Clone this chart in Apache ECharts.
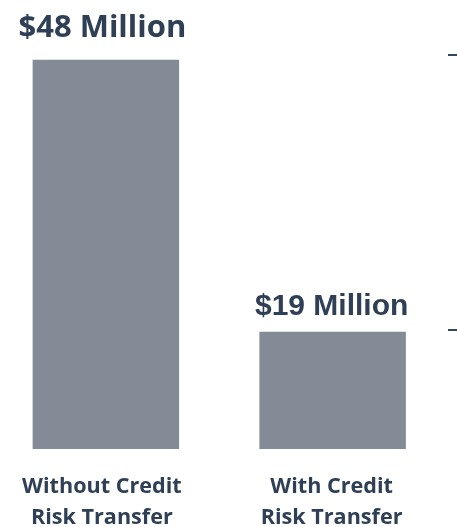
<!DOCTYPE html>
<html>
<head>
<meta charset="utf-8">
<style>
  html, body { margin: 0; padding: 0; background: #ffffff; }
  #chart { width: 457px; height: 527px; }
</style>
<script src="https://cdn.jsdelivr.net/npm/echarts@6/dist/echarts.min.js"></script>
</head>
<body>
<div id="chart"></div>
<script>
// Losses in millions of dollars, with and without credit risk transfer
const categories = ['Without Credit\nRisk Transfer', 'With Credit\nRisk Transfer'];
const values = [48, 19];
const valueLabels = ['$48 Million', '$19 Million'];
// Short marker ticks along the right edge
const edgeTicks = [48.5, 19.2];

const AXIS_MIN = 6.5;
const AXIS_MAX = 48.5;
const TEXT = '#2e3f56';
const BAR = '#838b97';

// Each value label has its own typeface, as on the slide
const labelStyles = [
  { fontFamily: 'Open Sans', fontSize: 31, distance: 16, offset: [-3.5, 0] },
  { fontFamily: 'Liberation Sans', fontSize: 30, distance: 10, offset: [-1, 0] }
];
// The first category caption sits slightly left of its bar
const captionPadding = [[0, 8, 0, 0], [0, 2, 0, 0]];

const chart = echarts.init(document.getElementById('chart'), null, { renderer: 'canvas' });

chart.setOption({
  animation: false,
  backgroundColor: '#ffffff',
  grid: {
    left: -7.5, right: 11, top: 55, bottom: 78,
    containLabel: false,
    outerBoundsMode: 'none'
  },
  xAxis: {
    type: 'category',
    data: categories.map((c, i) => ({
      value: c,
      textStyle: { padding: captionPadding[i] }
    })),
    axisLine: { show: false },
    axisTick: { show: false },
    axisLabel: {
      color: TEXT,
      fontFamily: 'Open Sans',
      fontWeight: 'bold',
      fontSize: 21.6,
      lineHeight: 31,
      margin: 22,
      interval: 0
    }
  },
  yAxis: [
    {
      type: 'value',
      min: AXIS_MIN,
      max: AXIS_MAX,
      show: false
    },
    {
      type: 'value',
      position: 'right',
      min: AXIS_MIN,
      max: AXIS_MAX,
      offset: 2,
      axisLine: { show: false },
      axisLabel: { show: false },
      splitLine: { show: false },
      axisTick: {
        show: true,
        length: 9,
        customValues: edgeTicks,
        lineStyle: { color: '#34465e', width: 2 }
      }
    }
  ],
  series: [
    {
      type: 'bar',
      yAxisIndex: 0,
      barWidth: 146.5,
      itemStyle: { color: BAR },
      data: values.map((v, i) => ({
        value: v,
        label: {
          show: true,
          position: 'top',
          distance: labelStyles[i].distance,
          offset: labelStyles[i].offset,
          formatter: valueLabels[i],
          color: TEXT,
          fontWeight: 'bold',
          fontFamily: labelStyles[i].fontFamily,
          fontSize: labelStyles[i].fontSize
        }
      }))
    }
  ]
});
</script>
</body>
</html>
